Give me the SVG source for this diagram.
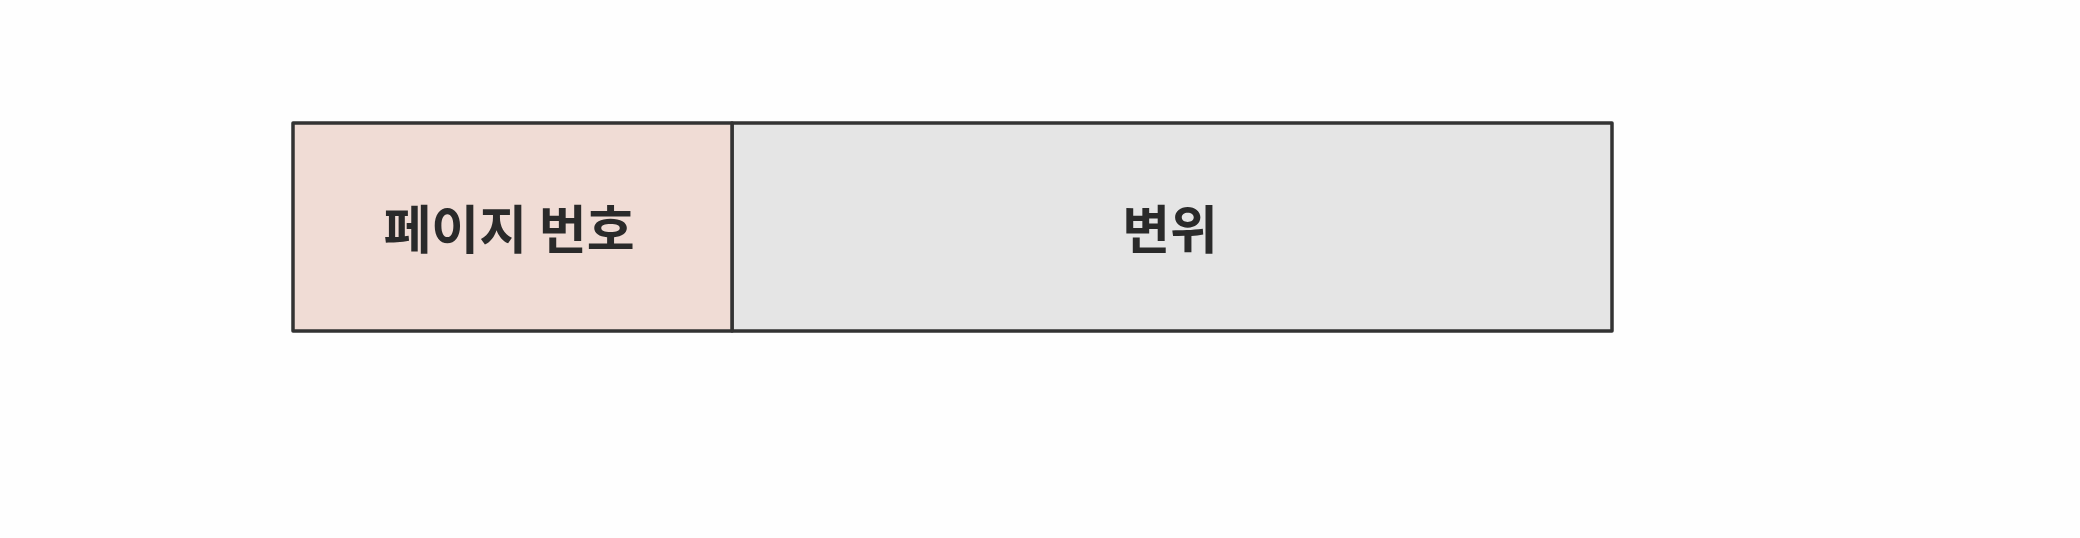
<svg xmlns="http://www.w3.org/2000/svg" width="2080" height="538" viewBox="0 0 2080 538">
<style>
.box{stroke:#333;stroke-width:3.5;stroke-linejoin:round}
.lbl{font-family:"Noto Sans CJK KR","Noto Sans",sans-serif;font-size:52px;font-weight:bold;fill:#2a2a2a;text-anchor:middle}
</style>
<rect width="2080" height="538" fill="#fefefe"/>
<g id="offset">
<rect class="box" x="732" y="123" width="880" height="208" fill="#e5e5e5"/>
<text class="lbl" x="1170" y="249">변위</text>
</g>
<g id="page-number">
<rect class="box" x="293" y="123" width="439" height="208" fill="#f0dcd5"/>
<text class="lbl" x="509" y="249">페이지 번호</text>
</g>
<g id="connectors"></g>
</svg>
